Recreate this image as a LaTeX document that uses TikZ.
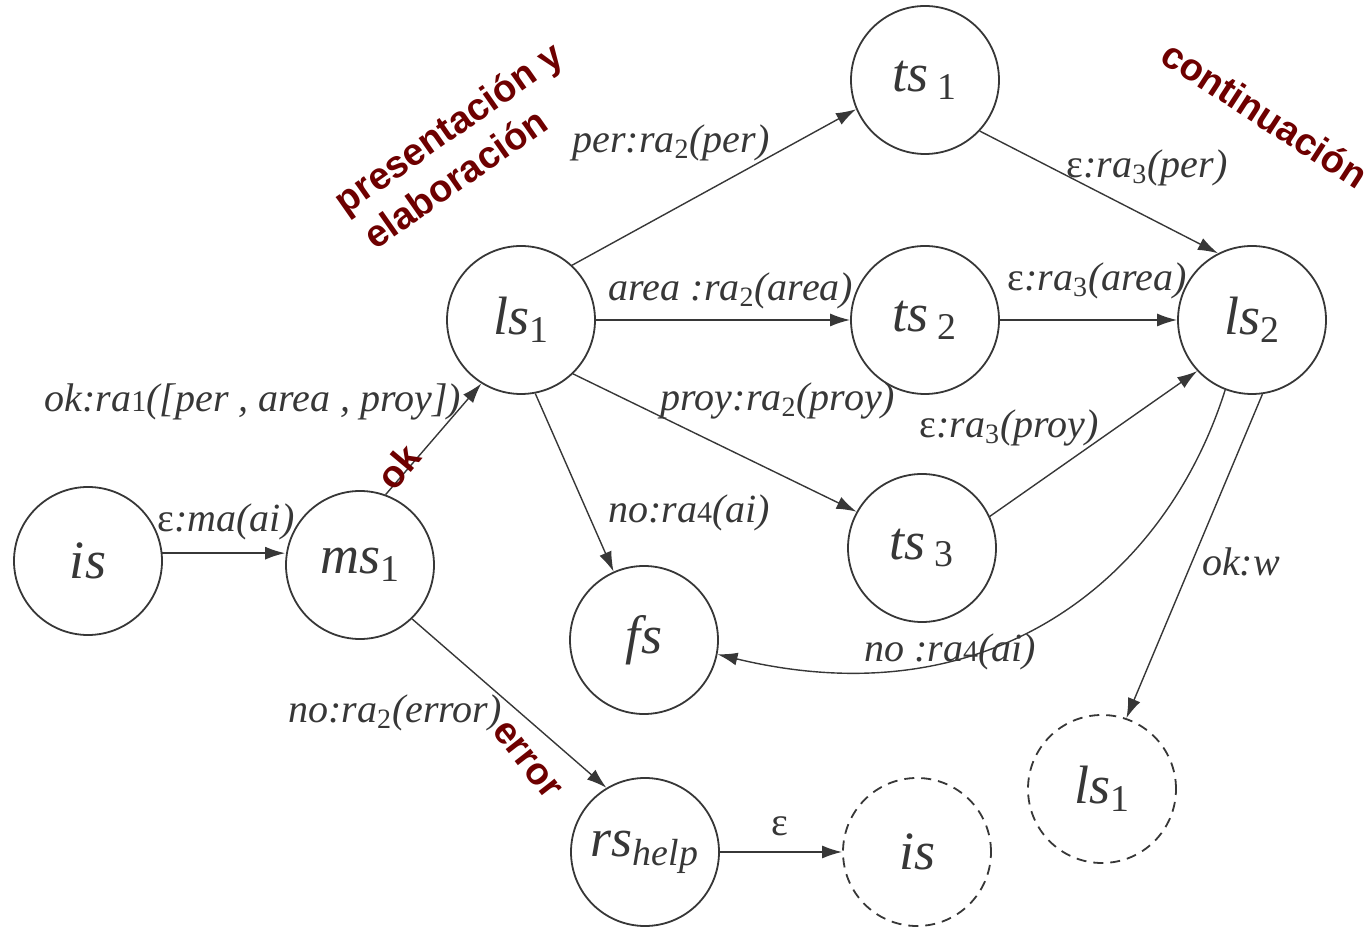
\documentclass[tikz,border=0pt]{standalone}
\usepackage{fontspec}
\setmainfont{Liberation Serif}
\newfontfamily\tagfont{Liberation Sans}
\usetikzlibrary{arrows.meta}
\definecolor{ink}{RGB}{55,55,55}
\definecolor{tagred}{RGB}{110,0,0}
% upright subscript digit used in state and transition names
\newcommand{\lo}[1]{\textsubscript{\upshape #1}}
% small upright digit kept on the baseline (ra1, ra4)
\newcommand{\bd}[1]{{\upshape\fontsize{15}{15}\selectfont #1}}
\newcommand{\eps}{{\upshape ε}}
\begin{document}
\begin{tikzpicture}[x=0.5pt,y=-0.5pt,
  state/.style={circle,draw=ink,line width=0.9pt,minimum size=74pt,inner sep=0pt,
    font=\fontsize{27}{27}\selectfont\itshape,text=ink},
  ghost/.style={state,dash pattern=on 5pt off 3.5pt},
  arr/.style={-{Latex[length=10pt,width=6.5pt]},draw=ink,line width=0.7pt},
  lbl/.style={font=\fontsize{20}{20}\selectfont\itshape,text=ink,inner sep=0pt},
  tag/.style={font=\tagfont\bfseries\fontsize{19}{19}\selectfont,text=tagred,inner sep=0pt}]
\useasboundingbox (0,0) rectangle (1371,929);

% states
\node[state] (is)   at (88,561)   {is};
\node[state] (ms1)  at (360,565)  {ms\lo{1}};
\node[state] (ls1)  at (521,320)  {ls\lo{1}};
\node[state] (ts1)  at (925,80)   {ts\,\lo{1}};
\node[state] (ts2)  at (925,320)  {ts\,\lo{2}};
\node[state] (ls2)  at (1252,320) {ls\lo{2}};
\node[state] (ts3)  at (922,548)  {ts\,\lo{3}};
\node[state] (fs)   at (644,640)  {fs};
\node[state] (rs)   at (645,852)  {rs\textsubscript{help}};
\node[ghost] (is2)  at (917,852)  {is};
\node[ghost] (ls1b) at (1102,789) {ls\lo{1}};

% transitions
\draw[arr] (is.6) -- (is.6 -| ms1.west);
\draw[arr] (ms1.70) -- (ls1.238);
\draw[arr] (ls1.47) -- (ts1.203);
\draw[arr] (ts1.317) -- (ls2.117);
\draw[arr] (ls1) -- (ts2);
\draw[arr] (ts2) -- (ls2);
\draw[arr] (ls1.314) -- (ts3.151);
\draw[arr] (ts3.25) -- (ls2.223);
\draw[arr] (ls1.281) -- (fs.114);
\draw[arr] (ls2.249) .. controls (1165,580) and (990,720) .. (fs.349);
\draw[arr] (ls2.278) -- (ls1b.71);
\draw[arr] (ms1.314) -- (rs.121.5);
\draw[arr] (rs) -- (is2);

% transition labels
\node[lbl] at (226,522)  {\eps:ma(ai)};
\node[lbl] at (253,402)  {ok:ra\bd{1}([per , area , proy])};
\node[lbl] at (671,143)  {per:ra\lo{2}(per)};
\node[lbl] at (731,291)  {area :ra\lo{2}(area)};
\node[lbl] at (1147,168) {\eps:ra\lo{3}(per)};
\node[lbl] at (1097,281) {\eps:ra\lo{3}(area)};
\node[lbl] at (778,401)  {proy:ra\lo{2}(proy)};
\node[lbl] at (1009,428) {\eps:ra\lo{3}(proy)};
\node[lbl] at (689,513)  {no:ra\bd{4}(ai)};
\node[lbl] at (1241,562) {ok:w};
\node[lbl] at (950,652)  {no :ra\bd{4}(ai)};
\node[lbl] at (395,713)  {no:ra\lo{2}(error)};
\node[lbl] at (780,826)  {\eps};

% phase annotations
\node[tag,rotate=35]  at (450,130)  {presentación y};
\node[tag,rotate=35]  at (455,178)  {elaboración};
\node[tag,rotate=-33] at (1265,114) {continuación};
\node[tag,rotate=50]  at (398,467)  {ok};
\node[tag,rotate=-52] at (527,760)  {error};
\end{tikzpicture}
\end{document}
